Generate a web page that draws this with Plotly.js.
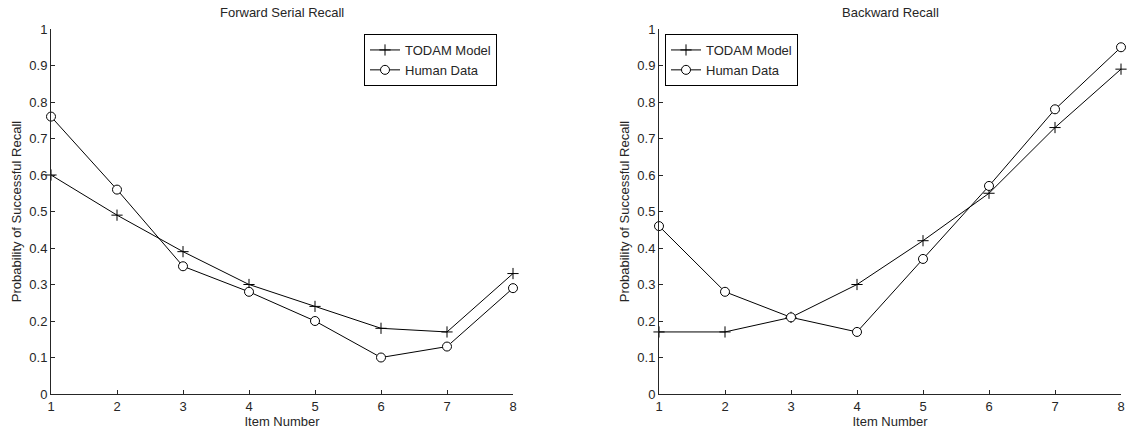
<!DOCTYPE html>
<html>
<head>
<meta charset="utf-8">
<script src="https://cdn.plot.ly/plotly-3.0.1.min.js"></script>
<style>html,body{margin:0;padding:0;background:#fff;}#chart{width:1127px;height:432px;}</style>
</head>
<body>
<div id="chart"></div>
<script>
const itemNumbers = [1, 2, 3, 4, 5, 6, 7, 8];
const forwardTodam = [0.60, 0.49, 0.39, 0.30, 0.24, 0.18, 0.17, 0.33];
const forwardHuman = [0.76, 0.56, 0.35, 0.28, 0.20, 0.10, 0.13, 0.29];
const backwardTodam = [0.17, 0.17, 0.21, 0.30, 0.42, 0.55, 0.73, 0.89];
const backwardHuman = [0.46, 0.28, 0.21, 0.17, 0.37, 0.57, 0.78, 0.95];
const seriesNames = ["TODAM Model", "Human Data"];
const panelTitles = ["Forward Serial Recall", "Backward Recall"];
const xTitle = "Item Number";
const yTitle = "Probability of Successful Recall";

const txt = '#262626';
const fnt = {family: 'Liberation Sans, Arial, sans-serif', size: 13, color: txt};

function modelTrace(x, y, xa, ya, leg) {
  return {x: x, y: y, xaxis: xa, yaxis: ya, legend: leg, name: seriesNames[0],
    mode: 'lines+markers', cliponaxis: false,
    line: {color: '#000', width: 1},
    marker: {symbol: 'cross-thin', size: 8, color: '#000', line: {color: '#000', width: 1}}};
}
function humanTrace(x, y, xa, ya, leg) {
  return {x: x, y: y, xaxis: xa, yaxis: ya, legend: leg, name: seriesNames[1],
    mode: 'lines+markers', cliponaxis: false,
    line: {color: '#000', width: 1},
    marker: {symbol: 'circle', size: 9, color: '#fff', line: {color: '#000', width: 1}}};
}

const data = [
  modelTrace(itemNumbers, forwardTodam, 'x', 'y', 'legend'),
  humanTrace(itemNumbers, forwardHuman, 'x', 'y', 'legend'),
  modelTrace(itemNumbers, backwardTodam, 'x2', 'y2', 'legend2'),
  humanTrace(itemNumbers, backwardHuman, 'x2', 'y2', 'legend2')
];

const W = 1127, H = 432;
const yDom = [(H - 394) / H, (H - 29) / H];
const xDom1 = [51 / W, 513 / W];
const xDom2 = [659 / W, 1121 / W];

function xAxis(dom, anchor) {
  return {domain: dom, anchor: anchor, range: [1, 8], dtick: 1, tick0: 1,
    showgrid: false, zeroline: false, showline: true, linecolor: txt, linewidth: 1,
    ticks: 'inside', ticklen: 4, tickcolor: txt, tickfont: fnt, automargin: false,
    title: {text: xTitle, font: fnt, standoff: 2}};
}
function yAxis(anchor) {
  return {domain: yDom, anchor: anchor, range: [0, 1], dtick: 0.1, tick0: 0,
    showgrid: false, zeroline: false, showline: true, linecolor: txt, linewidth: 1,
    ticks: 'inside', ticklen: 4, tickcolor: txt, tickfont: fnt, automargin: false,
    title: {text: yTitle, font: fnt, standoff: 4}};
}

const legendStyle = (x) => ({x: x, y: (H - 34) / H, xref: 'paper', yref: 'paper',
  xanchor: 'left', yanchor: 'top', bgcolor: '#fff', bordercolor: '#000', borderwidth: 1,
  font: fnt, tracegroupgap: 0, itemwidth: 30});

const layout = {
  width: W, height: H,
  margin: {l: 0, r: 0, t: 0, b: 0},
  paper_bgcolor: '#fff', plot_bgcolor: '#fff',
  showlegend: true,
  font: fnt,
  xaxis: xAxis(xDom1, 'y'),
  yaxis: yAxis('x'),
  xaxis2: xAxis(xDom2, 'y2'),
  yaxis2: yAxis('x2'),
  legend: legendStyle(364 / W),
  legend2: legendStyle(665 / W),
  annotations: [
    {text: panelTitles[0], x: (xDom1[0] + xDom1[1]) / 2, y: (H - 13) / H, xref: 'paper', yref: 'paper',
     xanchor: 'center', yanchor: 'middle', showarrow: false, font: fnt},
    {text: panelTitles[1], x: (xDom2[0] + xDom2[1]) / 2, y: (H - 13) / H, xref: 'paper', yref: 'paper',
     xanchor: 'center', yanchor: 'middle', showarrow: false, font: fnt}
  ]
};

Plotly.newPlot('chart', data, layout, {staticPlot: true, displayModeBar: false});
</script>
</body>
</html>
